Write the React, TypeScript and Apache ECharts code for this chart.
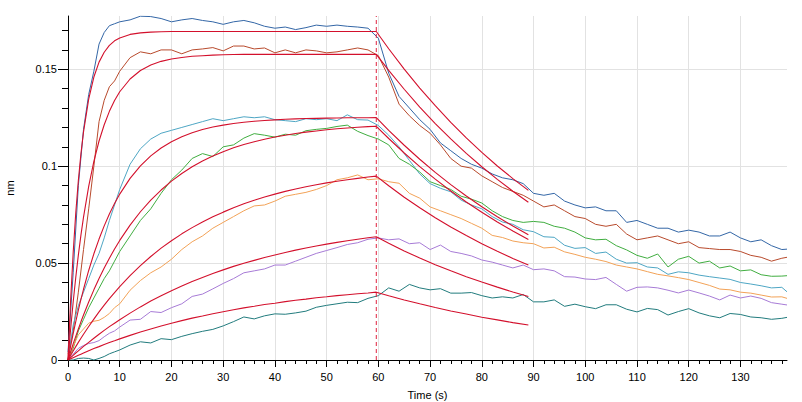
import React, { useEffect, useRef } from "react";
import * as echarts from "echarts";

// ---- data ----
const measuredTime = [0, 1, 2, 3, 4, 5, 6, 7, 8, 9, 10, 12, 14, 16, 18, 20, 22, 24, 26, 28, 30, 32, 34, 36, 38, 40, 42, 44, 46, 48, 50, 52, 54, 56, 58, 60, 62, 64, 66, 68, 70, 72, 74, 76, 78, 80, 82, 84, 86, 88, 90, 92, 94, 96, 98, 100, 102, 104, 106, 108, 110, 112, 114, 116, 118, 120, 122, 124, 126, 128, 130, 132, 134, 136, 138, 139];

const blueTrace = [0.004, 0.045, 0.090, 0.119, 0.137, 0.149, 0.163, 0.169, 0.1725, 0.1735, 0.1745,
  0.1755, 0.1774, 0.1772, 0.1762, 0.1745, 0.1755, 0.1762, 0.1752, 0.1745, 0.1732, 0.1745, 0.1752, 0.1740, 0.1722, 0.1712, 0.1718, 0.1705, 0.1715, 0.1728, 0.1722, 0.1728, 0.1722, 0.1718, 0.1712,
  0.166, 0.148, 0.136, 0.130, 0.124, 0.119, 0.112, 0.108, 0.104, 0.101, 0.099, 0.096, 0.094, 0.093, 0.091, 0.086, 0.085, 0.086, 0.082, 0.080, 0.0785, 0.079, 0.077, 0.077, 0.071, 0.072, 0.070, 0.068, 0.068, 0.066, 0.067, 0.066, 0.064, 0.064, 0.066, 0.063, 0.061, 0.062, 0.059, 0.057, 0.0572];

const brownTrace = [0.003, 0.015, 0.035, 0.057, 0.078, 0.100, 0.123, 0.134, 0.141, 0.144, 0.149,
  0.156, 0.159, 0.158, 0.160, 0.160, 0.158, 0.160, 0.1605, 0.1612, 0.1595, 0.162, 0.162, 0.1605, 0.161, 0.1585, 0.160, 0.1585, 0.160, 0.1595, 0.1585, 0.159, 0.160, 0.161, 0.160,
  0.157, 0.146, 0.132, 0.126, 0.121, 0.117, 0.111, 0.104, 0.100, 0.099, 0.095, 0.092, 0.089, 0.087, 0.085, 0.082, 0.079, 0.080, 0.077, 0.074, 0.073, 0.070, 0.069, 0.070, 0.065, 0.062, 0.063, 0.064, 0.062, 0.060, 0.061, 0.058, 0.0575, 0.057, 0.057, 0.056, 0.054, 0.053, 0.051, 0.0525, 0.053];

const cyanTrace = [0, 0.018, 0.028, 0.035, 0.042, 0.049, 0.055, 0.063, 0.072, 0.080, 0.088,
  0.101, 0.109, 0.114, 0.117, 0.1185, 0.120, 0.1215, 0.123, 0.1245, 0.1235, 0.1245, 0.1255, 0.1250, 0.1255, 0.1240, 0.1235, 0.1230, 0.1245, 0.1240, 0.1245, 0.1235, 0.1265, 0.1240, 0.1238,
  0.121, 0.116, 0.110, 0.103, 0.096, 0.091, 0.0886, 0.0868, 0.0825, 0.080, 0.078, 0.074, 0.0712, 0.070, 0.0672, 0.0662, 0.0636, 0.0633, 0.0592, 0.0576, 0.058, 0.055, 0.0557, 0.052, 0.050, 0.0502, 0.048, 0.0475, 0.0442, 0.0455, 0.045, 0.0438, 0.043, 0.0423, 0.0416, 0.040, 0.0392, 0.0383, 0.0372, 0.0375, 0.0352];

const greenTrace = [0, 0.006, 0.015, 0.021, 0.027, 0.032, 0.037, 0.042, 0.046, 0.051, 0.056,
  0.064, 0.072, 0.078, 0.086, 0.093, 0.098, 0.104, 0.1065, 0.105, 0.110, 0.111, 0.1145, 0.1168, 0.116, 0.115, 0.1165, 0.116, 0.1183, 0.119, 0.1195, 0.1205, 0.1212, 0.118, 0.1158,
  0.114, 0.111, 0.104, 0.101, 0.097, 0.092, 0.090, 0.088, 0.0845, 0.083, 0.081, 0.077, 0.074, 0.072, 0.071, 0.0715, 0.071, 0.069, 0.068, 0.066, 0.063, 0.062, 0.0623, 0.059, 0.0568, 0.054, 0.0525, 0.0547, 0.048, 0.052, 0.0535, 0.050, 0.051, 0.0475, 0.0485, 0.046, 0.0465, 0.044, 0.0432, 0.0433, 0.0435];

const orangeTrace = [0, 0.007, 0.013, 0.016, 0.019, 0.020, 0.0205, 0.022, 0.024, 0.027, 0.029,
  0.036, 0.041, 0.045, 0.048, 0.052, 0.057, 0.061, 0.064, 0.068, 0.071, 0.074, 0.077, 0.0795, 0.080, 0.082, 0.0845, 0.0855, 0.0865, 0.088, 0.090, 0.093, 0.094, 0.0955, 0.093,
  0.0935, 0.092, 0.0912, 0.086, 0.0835, 0.079, 0.077, 0.075, 0.073, 0.0705, 0.068, 0.0643, 0.0632, 0.0614, 0.0605, 0.060, 0.0578, 0.0582, 0.0558, 0.0545, 0.053, 0.052, 0.0508, 0.049, 0.048, 0.047, 0.0456, 0.0442, 0.0434, 0.0425, 0.0415, 0.040, 0.0385, 0.0366, 0.0362, 0.035, 0.0345, 0.0335, 0.0325, 0.0326, 0.0318];

const purpleTrace = [0, 0.003, 0.006, 0.0075, 0.0085, 0.009, 0.010, 0.012, 0.0138, 0.015, 0.017,
  0.0206, 0.021, 0.025, 0.0245, 0.027, 0.029, 0.0328, 0.034, 0.0367, 0.0395, 0.042, 0.045, 0.046, 0.047, 0.049, 0.049, 0.051, 0.053, 0.055, 0.0565, 0.058, 0.0596, 0.0605, 0.0623,
  0.063, 0.062, 0.0625, 0.060, 0.0605, 0.057, 0.0593, 0.056, 0.055, 0.0537, 0.0516, 0.0505, 0.049, 0.0475, 0.049, 0.0466, 0.047, 0.046, 0.043, 0.0428, 0.0418, 0.0415, 0.0426, 0.039, 0.0355, 0.0375, 0.0377, 0.0372, 0.036, 0.0346, 0.0361, 0.0346, 0.033, 0.031, 0.0335, 0.032, 0.033, 0.0318, 0.0296, 0.0288, 0.0284];

const tealTrace = [0, 0.0, 0.0008, 0.001, 0.0008, 0.0, 0.0008, 0.0018, 0.0032, 0.0042, 0.0052,
  0.0077, 0.0094, 0.0088, 0.011, 0.0105, 0.0122, 0.0136, 0.0148, 0.0158, 0.0176, 0.0198, 0.0222, 0.0212, 0.0228, 0.0238, 0.0236, 0.0243, 0.0252, 0.0272, 0.0282, 0.029, 0.0298, 0.0296, 0.0318,
  0.0332, 0.0372, 0.0355, 0.039, 0.0372, 0.0362, 0.0368, 0.0345, 0.0345, 0.0348, 0.0332, 0.032, 0.0326, 0.032, 0.0338, 0.030, 0.030, 0.031, 0.0277, 0.0288, 0.0275, 0.0265, 0.0285, 0.0285, 0.0262, 0.0248, 0.0266, 0.026, 0.0232, 0.025, 0.0265, 0.0243, 0.0228, 0.0218, 0.024, 0.0235, 0.0222, 0.0218, 0.021, 0.0215, 0.022];

const fitTime = [0, 0.5, 1, 1.5, 2, 2.5, 3, 4, 5, 6, 7, 8, 9, 10, 12, 14, 16, 18, 20, 22, 24, 26, 28, 30, 32, 34, 36, 38, 40, 42, 44, 46, 48, 50, 52, 54, 56, 58, 59.6, 62, 65, 68, 71, 74, 77, 80, 83, 86, 89];

const fit1 = [0, 0.0304, 0.0553, 0.0758, 0.0926, 0.1064, 0.1177, 0.1346, 0.1460, 0.1537, 0.1588, 0.1623, 0.1647, 0.1662,
  0.1680, 0.1688, 0.1692, 0.1694, 0.1695, 0.1695, 0.1695, 0.1695, 0.1695, 0.1695, 0.1695, 0.1695, 0.1695, 0.1695, 0.1695, 0.1695, 0.1695, 0.1695, 0.1695, 0.1695, 0.1695, 0.1695, 0.1695, 0.1695,
  0.1695, 0.1606, 0.1501, 0.1403, 0.1312, 0.1226, 0.1146, 0.1071, 0.1001, 0.0936, 0.0875];
const fit2 = [0, 0.0157, 0.0299, 0.0426, 0.0541, 0.0644, 0.0737, 0.0896, 0.1025, 0.1130, 0.1214, 0.1283, 0.1339, 0.1384,
  0.1450, 0.1494, 0.1522, 0.1541, 0.1553, 0.1561, 0.1567, 0.1570, 0.1573, 0.1575, 0.1576, 0.1577, 0.1577, 0.1577, 0.1577, 0.1577, 0.1577, 0.1577, 0.1577, 0.1577, 0.1577, 0.1577, 0.1577, 0.1577,
  0.1577, 0.1494, 0.1397, 0.1305, 0.1220, 0.1141, 0.1066, 0.0997, 0.0932, 0.0871, 0.0814];
const fit3 = [0, 0.0070, 0.0136, 0.0198, 0.0257, 0.0313, 0.0365, 0.0462, 0.0548, 0.0624, 0.0692, 0.0753, 0.0807, 0.0856,
  0.0937, 0.1002, 0.1053, 0.1094, 0.1126, 0.1152, 0.1173, 0.1189, 0.1202, 0.1212, 0.1220, 0.1227, 0.1232, 0.1236, 0.1239, 0.1242, 0.1244, 0.1246, 0.1247, 0.1248, 0.1249, 0.1250, 0.1250, 0.1250,
  0.1251, 0.1185, 0.1108, 0.1036, 0.0968, 0.0905, 0.0846, 0.0791, 0.0739, 0.0691, 0.0646];
const fit4 = [0, 0.0042, 0.0083, 0.0122, 0.0160, 0.0197, 0.0232, 0.0299, 0.0362, 0.0420, 0.0475, 0.0525, 0.0573, 0.0617,
  0.0696, 0.0765, 0.0825, 0.0877, 0.0923, 0.0962, 0.0997, 0.1027, 0.1052, 0.1075, 0.1095, 0.1112, 0.1126, 0.1139, 0.1151, 0.1160, 0.1169, 0.1176, 0.1182, 0.1188, 0.1193, 0.1197, 0.1201, 0.1204,
  0.1206, 0.1143, 0.1068, 0.0998, 0.0933, 0.0872, 0.0815, 0.0762, 0.0712, 0.0666, 0.0622];
const fit5 = [0, 0.0023, 0.0046, 0.0069, 0.0091, 0.0112, 0.0133, 0.0173, 0.0211, 0.0248, 0.0283, 0.0317, 0.0348, 0.0379,
  0.0435, 0.0487, 0.0534, 0.0577, 0.0615, 0.0651, 0.0683, 0.0712, 0.0739, 0.0763, 0.0786, 0.0806, 0.0824, 0.0841, 0.0856, 0.0870, 0.0882, 0.0894, 0.0904, 0.0914, 0.0922, 0.0930, 0.0937, 0.0944,
  0.0949, 0.0899, 0.0840, 0.0786, 0.0734, 0.0686, 0.0642, 0.0600, 0.0561, 0.0524, 0.0490];
const fit6 = [0, 0.0012, 0.0024, 0.0036, 0.0047, 0.0059, 0.0070, 0.0091, 0.0112, 0.0133, 0.0153, 0.0172, 0.0190, 0.0208,
  0.0242, 0.0274, 0.0304, 0.0331, 0.0357, 0.0382, 0.0405, 0.0426, 0.0446, 0.0465, 0.0483, 0.0499, 0.0514, 0.0529, 0.0542, 0.0555, 0.0567, 0.0578, 0.0588, 0.0598, 0.0607, 0.0615, 0.0623, 0.0631,
  0.0636, 0.0603, 0.0563, 0.0526, 0.0492, 0.0460, 0.0430, 0.0402, 0.0376, 0.0351, 0.0328];
const fit7 = [0, 0.0006, 0.0012, 0.0018, 0.0024, 0.0030, 0.0036, 0.0048, 0.0059, 0.0069, 0.0080, 0.0090, 0.0099, 0.0109,
  0.0127, 0.0144, 0.0160, 0.0175, 0.0190, 0.0203, 0.0216, 0.0227, 0.0239, 0.0249, 0.0259, 0.0269, 0.0277, 0.0286, 0.0293, 0.0301, 0.0308, 0.0314, 0.0321, 0.0326, 0.0332, 0.0337, 0.0342, 0.0346,
  0.0350, 0.0332, 0.0310, 0.0290, 0.0271, 0.0253, 0.0237, 0.0221, 0.0207, 0.0193, 0.0181];

const injectionEnd = 59.6;

const xMajorTicks = [0, 10, 20, 30, 40, 50, 60, 70, 80, 90, 100, 110, 120, 130];
const xMinorTicks = [0, 2, 4, 6, 8, 10, 12, 14, 16, 18, 20, 22, 24, 26, 28, 30, 32, 34, 36, 38, 40, 42, 44, 46, 48, 50, 52, 54, 56, 58, 60, 62, 64, 66, 68, 70, 72, 74, 76, 78, 80, 82, 84, 86, 88, 90, 92, 94, 96, 98, 100, 102, 104, 106, 108, 110, 112, 114, 116, 118, 120, 122, 124, 126, 128, 130, 132, 134, 136, 138];
const yMajorTicks = [0, 0.05, 0.1, 0.15];
const yMinorTicks = [0, 0.01, 0.02, 0.03, 0.04, 0.05, 0.06, 0.07, 0.08, 0.09, 0.1, 0.11, 0.12, 0.13, 0.14, 0.15, 0.16, 0.17];
const yMax = 0.1775;
const xMax = 139;

const traces = [
  { name: "trace1", values: blueTrace, color: "#3366a6" },
  { name: "trace2", values: brownTrace, color: "#b84a2c" },
  { name: "trace3", values: cyanTrace, color: "#4ea6c4" },
  { name: "trace4", values: greenTrace, color: "#40ad40" },
  { name: "trace5", values: orangeTrace, color: "#f2a257" },
  { name: "trace6", values: purpleTrace, color: "#a77bd6" },
  { name: "trace7", values: tealTrace, color: "#217b7d" },
];
const fits = [fit1, fit2, fit3, fit4, fit5, fit6, fit7];

const FONT = "'Liberation Sans', Arial, sans-serif";
const AXIS_COLOR = "#000";

export default function App() {
  const ref = useRef<HTMLDivElement>(null);

  useEffect(() => {
    if (!ref.current) return;
    const chart = echarts.init(ref.current, undefined, { renderer: "svg" });

    const zip = (xs: number[], ys: number[]) => xs.map((x, i) => [x, ys[i]]);

    const series: any[] = [];
    traces.forEach((t) => {
      series.push({
        type: "line",
        name: t.name,
        xAxisIndex: 0,
        yAxisIndex: 0,
        data: zip(measuredTime, t.values),
        showSymbol: false,
        symbol: "none",
        lineStyle: { color: t.color, width: 1 },
        itemStyle: { color: t.color },
        z: 2,
      });
    });
    fits.forEach((f, i) => {
      series.push({
        type: "line",
        name: "fit" + (i + 1),
        xAxisIndex: 0,
        yAxisIndex: 0,
        data: zip(fitTime, f),
        showSymbol: false,
        symbol: "none",
        lineStyle: { color: "#d3102c", width: 1.1 },
        itemStyle: { color: "#d3102c" },
        z: 3,
      });
    });
    series.push({
      type: "line",
      name: "injection end",
      xAxisIndex: 0,
      yAxisIndex: 0,
      data: [[injectionEnd, 0], [injectionEnd, yMax]],
      showSymbol: false,
      symbol: "none",
      lineStyle: { color: "#e0223f", type: [4, 3], width: 1 },
      itemStyle: { color: "#e0223f" },
      z: 4,
    });

    chart.setOption({
      animation: false,
      backgroundColor: "#fff",
      textStyle: { fontFamily: FONT },
      grid: { left: 68, right: 15, top: 16, bottom: 42, containLabel: false, outerBoundsMode: "none" },
      xAxis: [
        {
          type: "value",
          min: 0,
          max: xMax,
          position: "bottom",
          name: "Time (s)",
          nameLocation: "middle",
          nameGap: 29,
          nameMoveOverlap: false,
          nameTextStyle: { color: "#000", fontSize: 11, fontFamily: FONT },
          axisLine: { show: true, onZero: false, lineStyle: { color: AXIS_COLOR, width: 1 } },
          axisTick: { show: true, length: 7, customValues: xMajorTicks, lineStyle: { color: AXIS_COLOR } },
          axisLabel: { customValues: xMajorTicks, color: "#000", fontSize: 11, margin: 11, fontFamily: FONT },
          splitLine: { show: true, lineStyle: { color: "#e2e2e2", width: 1 } },
        },
        {
          type: "value",
          min: 0,
          max: xMax,
          position: "bottom",
          axisLine: { show: false, onZero: false },
          axisTick: { show: true, length: 4, customValues: xMinorTicks, lineStyle: { color: AXIS_COLOR } },
          axisLabel: { show: false },
          splitLine: { show: false },
        },
      ],
      yAxis: [
        {
          type: "value",
          min: 0,
          max: yMax,
          position: "left",
          name: "nm",
          nameLocation: "middle",
          nameGap: 53,
          nameMoveOverlap: false,
          nameTextStyle: { color: "#000", fontSize: 11, fontFamily: FONT },
          axisLine: { show: true, onZero: false, lineStyle: { color: AXIS_COLOR, width: 1 } },
          axisTick: { show: true, length: 10, customValues: yMajorTicks, lineStyle: { color: AXIS_COLOR } },
          axisLabel: { customValues: yMajorTicks, color: "#000", fontSize: 11, margin: 11, fontFamily: FONT },
          splitLine: { show: true, lineStyle: { color: "#e2e2e2", width: 1 } },
        },
        {
          type: "value",
          min: 0,
          max: yMax,
          position: "left",
          axisLine: { show: false, onZero: false },
          axisTick: { show: true, length: 6, customValues: yMinorTicks, lineStyle: { color: AXIS_COLOR } },
          axisLabel: { show: false },
          splitLine: { show: false },
        },
      ],
      series,
    });

    return () => chart.dispose();
  }, []);

  return (
    <div
      ref={ref}
      style={{ position: "fixed", left: 0, top: 0, width: 802, height: 402, background: "#fff" }}
    />
  );
}
